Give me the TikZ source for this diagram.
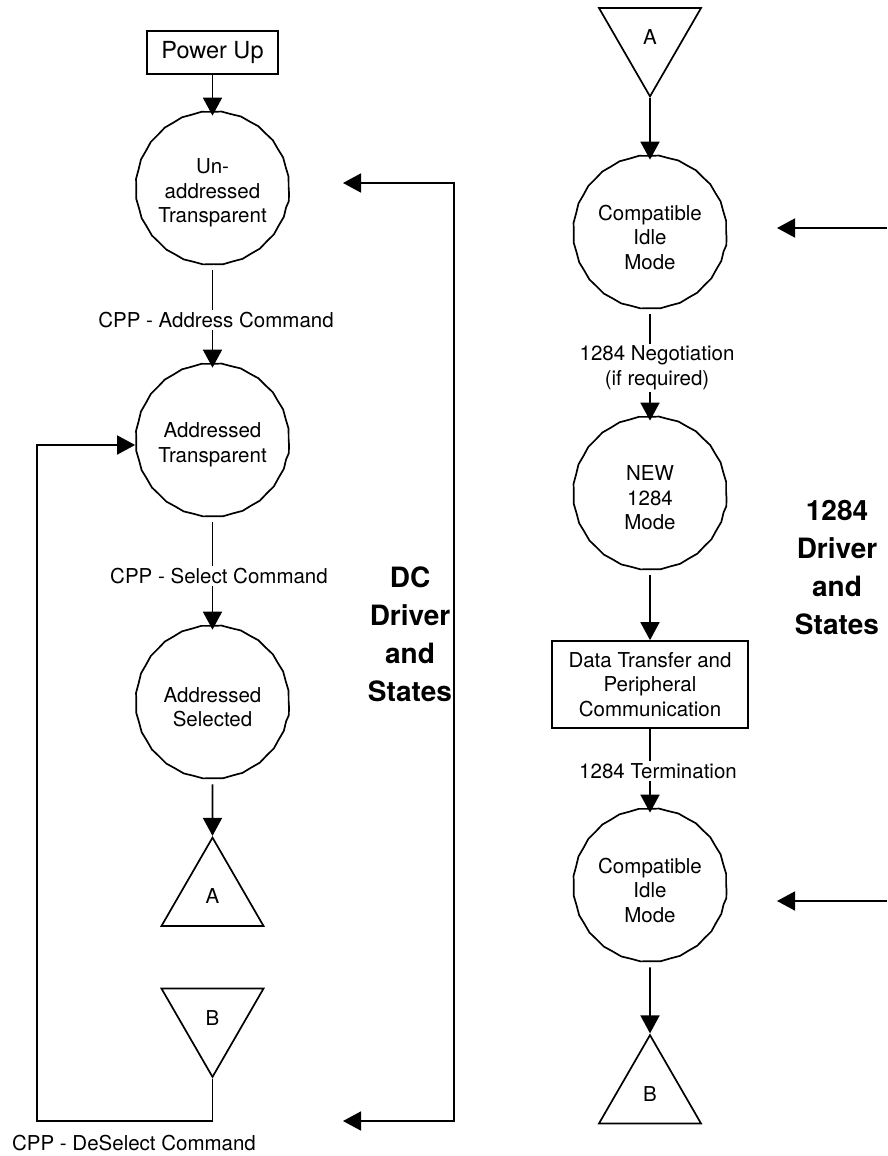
\documentclass[tikz,border=0pt]{standalone}
\usepackage{fontspec}
\setmainfont{TeX Gyre Heros}
\usetikzlibrary{arrows.meta,shapes.geometric,decorations.pathmorphing}
\begin{document}
\begin{tikzpicture}[x=1pt,y=-1pt,line width=1.7pt,
  every node/.style={font=\fontsize{20.5}{24.5}\selectfont},
  state/.style={circle, draw, minimum size=153pt, inner sep=0pt, align=center,
    decorate, decoration={snake, amplitude=0.4pt, segment length=20pt}},
  boxnode/.style={draw, rectangle, inner sep=0pt, align=center},
  triup/.style={draw, regular polygon, regular polygon sides=3, minimum size=117.8pt, inner sep=0pt},
  tridown/.style={triup, shape border rotate=180},
  lbl/.style={fill=white, inner sep=2pt, align=center},
  big/.style={font=\fontsize{28}{38}\selectfont\bfseries, align=center},
  arr/.style={-{Triangle[length=18pt,width=19pt]}},
  arrboth/.style={{Triangle[length=18pt,width=19pt]}-{Triangle[length=18pt,width=19pt]}}
]
\useasboundingbox (0,0) rectangle (887,1156);

% left column
\node[boxnode, minimum width=131pt, minimum height=43pt, font=\fontsize{23.5}{28}\selectfont] (pu) at (212.5,52.5) {Power Up};
\node[state] (c1) at (212.5,193) {Un-\\addressed\\Transparent};
\node[state] (c2) at (212.5,445) {Addressed\\Transparent};
\node[state] (c3) at (212.5,707) {Addressed\\Selected};
\node[triup] (tA) at (212.5,896.5) {A};
\node[tridown] (tB) at (212.5,1018) {B};

% right column
\node[tridown] (rA) at (650,37.5) {A};
\node[state] (r1) at (650,237) {Compatible\\Idle\\Mode};
\node[state] (r2) at (650,498) {NEW\\1284\\Mode};
\node[boxnode, minimum width=196pt, minimum height=87pt] (rb) at (650,684.5) {Data Transfer and\\Peripheral\\Communication};
\node[state] (r3) at (650,890) {Compatible\\Idle\\Mode};
\node[triup] (rB) at (650,1094) {B};

% connectors
\draw[arr] (pu) -- (c1);
\draw[arr] (c1) -- (c2);
\draw[arr] (c2) -- (c3);
\draw[arr] (c3) -- (tA);
\coordinate (lp1) at (37,1121);
\draw[arr] (tB.corner 1) |- (lp1) |- (c2.west);

\draw[arr] (rA.corner 1) -- (r1);
\draw[arr] (r1) -- (r2);
\draw[arr] (r2) -- (rb);
\draw[arr] (rb) -- (r3);
\draw[arr] (r3) -- (rB);

% DC bracket
\coordinate (dt1) at (343,183);
\coordinate (dc1) at (454,183);
\coordinate (dc2) at (454,1121);
\coordinate (dt2) at (343,1121);
\draw[arrboth] (dt1) -- (dc1) -- (dc2) -- (dt2);

% 1284 arrows
\coordinate (e1) at (887,228);
\coordinate (t1) at (777,228);
\coordinate (e2) at (887,901);
\coordinate (t2) at (777,901);
\draw[arr] (e1) -- (t1);
\draw[arr] (e2) -- (t2);

% labels
\node[lbl] (l1) at (216,320) {CPP - Address Command};
\node[lbl] (l2) at (219,576) {CPP - Select Command};
\node[lbl] (l3) at (657,368) {1284 Negotiation\\(if required)};
\node[lbl] (l4) at (658,771) {1284 Termination};
\node (l5) at (134,1143) {CPP - DeSelect Command};

\node[big] (dc) at (410,634) {DC\\Driver\\and\\States};
\node[big] (d1284) at (837,568) {1284\\Driver\\and\\States};
\end{tikzpicture}
\end{document}
